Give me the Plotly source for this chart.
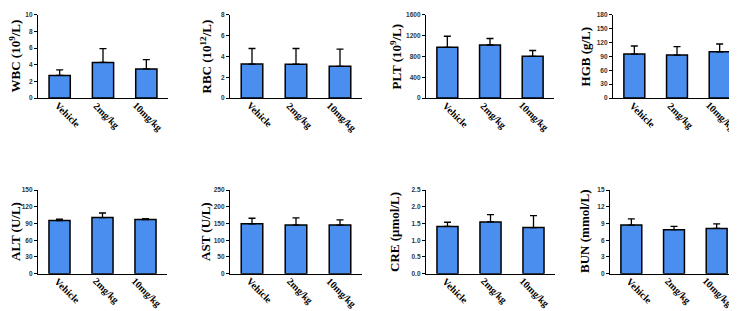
import plotly.graph_objects as go

W, H = 737, 311

groups = ["Vehicle", "2mg/kg", "10mg/kg"]

wbc_mean = [2.72, 4.28, 3.5]
wbc_sd = [0.66, 1.67, 1.13]
rbc_mean = [3.27, 3.25, 3.05]
rbc_sd = [1.5, 1.52, 1.65]
plt_mean = [977, 1021, 803]
plt_sd = [212, 125, 112]
hgb_mean = [95.2, 93.1, 100.1]
hgb_sd = [17.5, 18.2, 16.9]
alt_mean = [95.5, 100.8, 97.2]
alt_sd = [2.3, 8.2, 1.8]
ast_mean = [149.4, 145.5, 145.5]
ast_sd = [16.6, 21.5, 15.5]
cre_mean = [1.416, 1.55, 1.38]
cre_sd = [0.124, 0.22, 0.36]
bun_mean = [8.73, 7.9, 8.14]
bun_sd = [1.11, 0.6, 0.82]

titles = ["WBC (10<sup>9</sup>/L)", "RBC (10<sup>12</sup>/L)", "PLT (10<sup>9</sup>/L)", "HGB (g/L)",
          "ALT (U/L)", "AST (U/L)", "CRE (μmol/L)", "BUN (mmol/L)"]
means = [wbc_mean, rbc_mean, plt_mean, hgb_mean, alt_mean, ast_mean, cre_mean, bun_mean]
sds = [wbc_sd, rbc_sd, plt_sd, hgb_sd, alt_sd, ast_sd, cre_sd, bun_sd]
tickvals = [[0, 2, 4, 6, 8, 10], [0, 2, 4, 6, 8], [0, 400, 800, 1200, 1600],
            [0, 30, 60, 90, 120, 150, 180], [0, 30, 60, 90, 120, 150],
            [0, 50, 100, 150, 200, 250], [0, 0.5, 1.0, 1.5, 2.0, 2.5], [0, 3, 6, 9, 12, 15]]
ticktext_fmt = [None, None, None, None, None, None, "{:.1f}", None]

# layout geometry (pixels) – style only
xdom = [(30, 160), (222, 354), (418, 546), (605, 733),
        (30, 159), (222, 354), (418, 547), (602, 730)]
ydom = [(3, 88)] * 4 + [(182.3, 267.7)] * 4
title_x = [7, 198, 388, 577, 8, 198, 387, 577]
label_xshift = [-10, -14.5, -18.5]

fig = go.Figure()
layout = dict(width=W, height=H, margin=dict(l=0, r=0, t=0, b=0),
              plot_bgcolor="white", paper_bgcolor="white", showlegend=False)
annotations = []
for i in range(8):
    n = "" if i == 0 else str(i + 1)
    fig.add_trace(go.Bar(
        x=groups, y=means[i],
        xaxis="x" + n, yaxis="y" + n,
        marker=dict(color="#4a8ff0", line=dict(color="black", width=1.5)),
        width=0.49,
        error_y=dict(type="data", symmetric=False, array=sds[i],
                     arrayminus=[0, 0, 0], color="black", thickness=1.3, width=3.5),
    ))
    x0, x1 = xdom[i]
    y0, y1 = ydom[i]
    tv = tickvals[i]
    tt = [ticktext_fmt[i].format(v) for v in tv] if ticktext_fmt[i] else [str(v) for v in tv]
    layout["xaxis" + n] = dict(
        domain=[x0 / W, x1 / W], anchor="y" + n, range=[-0.5, 2.5],
        showline=True, linecolor="black", linewidth=1.3, ticks="", showgrid=False,
        showticklabels=False, zeroline=False,
    )
    layout["yaxis" + n] = dict(
        domain=[1 - y1 / H, 1 - y0 / H], anchor="x" + n, range=[0, tv[-1]],
        tickvals=tv, ticktext=tt, showline=True, linecolor="black", linewidth=1.3,
        ticks="outside", ticklen=3, tickwidth=1, tickcolor="black", showgrid=False,
        zeroline=False,
        tickfont=dict(family="Liberation Sans", size=6.5, color="#333", weight="bold"),
    )
    annotations.append(dict(
        text=titles[i], xref="paper", yref="paper",
        x=title_x[i] / W, y=1 - ((y0 + y1) / 2) / H,
        xanchor="center", yanchor="middle", textangle=-90, showarrow=False,
        font=dict(family="Liberation Serif", size=13, color="black", weight="bold"),
    ))
    for k, g in enumerate(groups):
        annotations.append(dict(
            text=g, xref="x" + n, yref="paper", x=g, y=1 - y1 / H,
            xanchor="left", yanchor="top", textangle=45, showarrow=False,
            xshift=label_xshift[k], yshift=1,
            font=dict(family="Liberation Serif", size=10, color="black", weight="bold"),
        ))
layout["annotations"] = annotations
fig.update_layout(**layout)
fig.write_html("out.html")
